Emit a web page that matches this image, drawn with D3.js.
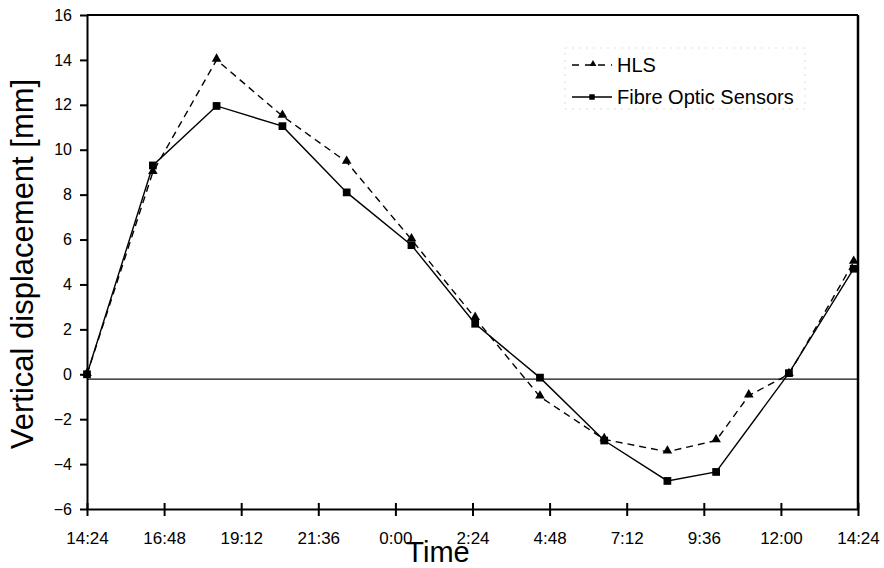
<!DOCTYPE html>
<html>
<head>
<meta charset="utf-8">
<script src="https://cdn.jsdelivr.net/npm/d3@7"></script>
<style>
    body { margin: 0; background: #fff; }
    svg { font-family: "Liberation Sans", Arial, sans-serif; }
    .axis path { stroke: #000; stroke-width: 2px; }
    .axis line { stroke: #000; stroke-width: 2px; }
    .axis text { fill: #000; }
</style>
</head>
<body>
<svg id="chart" width="884" height="568"></svg>
<script>
// measurement times (clock goes past midnight)
let times = ["14:24", "16:27", "18:26", "20:29", "22:29", "0:30", "2:29", "4:30", "6:30", "8:28", "9:59", "11:00", "12:15", "14:16"]

// vertical displacement in mm
let hlsValues = [0, 9.0, 14.0, 11.5, 9.45, 6.0, 2.5, -1.0, -2.9, -3.45, -2.95, -0.95, 0.0, 5.0]
let fibreValues = [0, 9.3, 11.95, 11.05, 8.1, 5.75, 2.25, -0.15, -2.95, -4.75, -4.35, null, 0.05, 4.7]

// axis ticks
let xTickLabels = ["14:24", "16:48", "19:12", "21:36", "0:00", "2:24", "4:48", "7:12", "9:36", "12:00", "14:24"]
let yTickValues = [-6, -4, -2, 0, 2, 4, 6, 8, 10, 12, 14, 16]
let baselineValue = -0.22

let seriesNames = ["HLS", "Fibre Optic Sensors"]

// turn clock strings into dates, moving to next day when the clock rolls over
function toDates(list) {
    let day = 1
    let prev = -1
    return list.map(function (s) {
        let parts = s.split(":")
        let mins = +parts[0] * 60 + +parts[1]
        if (mins < prev) day += 1
        prev = mins
        return new Date(2000, 0, day, +parts[0], +parts[1])
    })
}

let timeDates = toDates(times)
let tickDates = toDates(xTickLabels)

let plotVars = ({
    left: 87,
    right: 858,
    top: 15,
    bottom: 509
})

let svg = d3.select("#chart")

let xScale = d3.scaleTime()
    .domain([tickDates[0], tickDates[tickDates.length - 1]])
    .range([plotVars.left, plotVars.right])

let yScale = d3.scaleLinear()
    .domain([-6, 16])
    .range([plotVars.bottom, plotVars.top])

// frame top and right
svg.append("line")
    .attr("x1", plotVars.left).attr("x2", plotVars.right)
    .attr("y1", plotVars.top).attr("y2", plotVars.top)
    .attr("stroke", "#000").attr("stroke-width", 2)
svg.append("line")
    .attr("x1", plotVars.right).attr("x2", plotVars.right)
    .attr("y1", plotVars.top).attr("y2", plotVars.bottom)
    .attr("stroke", "#000").attr("stroke-width", 2.5)

// horizontal reference line
svg.append("line")
    .attr("x1", plotVars.left).attr("x2", plotVars.right)
    .attr("y1", yScale(baselineValue)).attr("y2", yScale(baselineValue))
    .attr("stroke", "#111").attr("stroke-width", 1.2)

// x axis, ticks cross the line
let xAxis = d3.axisBottom(xScale)
    .tickValues(tickDates)
    .tickFormat(d3.timeFormat("%-H:%M"))
    .tickSize(7)
    .tickSizeOuter(0)
    .tickPadding(16)

let xAxisGroup = svg.append("g")
    .attr("class", "axis x-axis")
    .attr("transform", "translate(0," + plotVars.bottom + ")")
    .call(xAxis)
xAxisGroup.selectAll(".tick line").attr("y1", -6)
xAxisGroup.selectAll("text").style("font-size", "17px")

// y axis
let yAxis = d3.axisLeft(yScale)
    .tickValues(yTickValues)
    .tickSize(7)
    .tickSizeOuter(0)
    .tickPadding(8)

let yAxisGroup = svg.append("g")
    .attr("class", "axis y-axis")
    .attr("transform", "translate(" + plotVars.left + ",0)")
    .call(yAxis)
yAxisGroup.selectAll("text").style("font-size", "16px")

// axis titles
svg.append("text")
    .attr("transform", "translate(33,264) rotate(-90)")
    .style("text-anchor", "middle")
    .style("font-size", "31px")
    .text("Vertical displacement [mm]")

svg.append("text")
    .attr("x", 438)
    .attr("y", 562)
    .style("text-anchor", "middle")
    .style("font-size", "29px")
    .text("Time")

// series data
let hlsData = timeDates.map(function (d, i) { return { t: d, v: hlsValues[i] } })
    .filter(function (d) { return d.v !== null })
let fibreData = timeDates.map(function (d, i) { return { t: d, v: fibreValues[i] } })
    .filter(function (d) { return d.v !== null })

let line = d3.line()
    .x(function (d) { return xScale(d.t) })
    .y(function (d) { return yScale(d.v) })

svg.append("path")
    .datum(hlsData)
    .attr("d", line)
    .attr("fill", "none")
    .attr("stroke", "#000")
    .attr("stroke-width", 1.4)
    .attr("stroke-dasharray", "7,5")

svg.append("path")
    .datum(fibreData)
    .attr("d", line)
    .attr("fill", "none")
    .attr("stroke", "#000")
    .attr("stroke-width", 1.4)

let triangle = d3.symbol().type(d3.symbolTriangle).size(40)
let square = d3.symbol().type(d3.symbolSquare).size(60)

svg.selectAll(".hls-point")
    .data(hlsData)
    .enter()
    .append("path")
    .attr("class", "hls-point")
    .attr("d", triangle)
    .attr("transform", function (d) { return "translate(" + xScale(d.t) + "," + (yScale(d.v) - 1) + ")" })
    .attr("fill", "#000")

svg.selectAll(".fibre-point")
    .data(fibreData)
    .enter()
    .append("path")
    .attr("class", "fibre-point")
    .attr("d", square)
    .attr("transform", function (d) { return "translate(" + xScale(d.t) + "," + yScale(d.v) + ")" })
    .attr("fill", "#000")

// legend
let legend = svg.append("g").attr("transform", "translate(565,48)")

legend.append("rect")
    .attr("width", 240).attr("height", 61)
    .attr("fill", "none")
    .attr("stroke", "#ddd")
    .attr("stroke-width", 1)
    .attr("stroke-dasharray", "2,5")

legend.append("line")
    .attr("x1", 7).attr("x2", 47).attr("y1", 17).attr("y2", 17)
    .attr("stroke", "#000").attr("stroke-width", 1.4)
    .attr("stroke-dasharray", "7,6")
legend.append("path")
    .attr("d", d3.symbol().type(d3.symbolTriangle).size(20))
    .attr("transform", "translate(28,16)")
legend.append("text")
    .attr("x", 52).attr("y", 17)
    .attr("dy", "0.35em")
    .style("font-size", "20px")
    .text(seriesNames[0])

legend.append("line")
    .attr("x1", 7).attr("x2", 47).attr("y1", 49).attr("y2", 49)
    .attr("stroke", "#000").attr("stroke-width", 1.4)
legend.append("path")
    .attr("d", d3.symbol().type(d3.symbolSquare).size(30))
    .attr("transform", "translate(27,49)")
legend.append("text")
    .attr("x", 52).attr("y", 49)
    .attr("dy", "0.35em")
    .style("font-size", "20px")
    .text(seriesNames[1])
</script>
</body>
</html>
